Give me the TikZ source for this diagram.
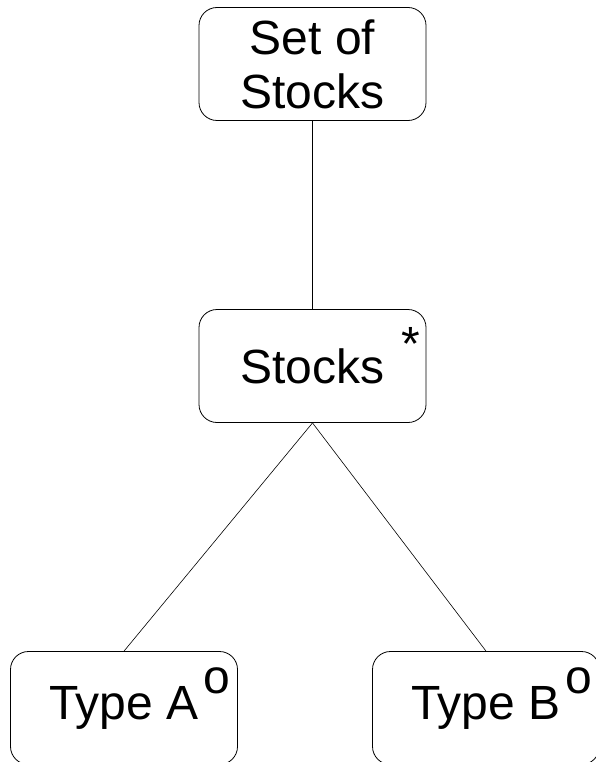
\documentclass[tikz,border=0pt]{standalone}
\usepackage{fontspec}
\setmainfont{Liberation Sans}
\tikzset{
  box/.style={draw, rounded corners=18pt, minimum width=227pt, minimum height=113pt,
    align=center, line width=0.8pt, font=\fontsize{48}{54}\selectfont},
  tag/.style={inner sep=0pt, font=\fontsize{48}{52}\selectfont},
  link/.style={line width=0.6pt}
}
\begin{document}
\begin{tikzpicture}[x=1pt,y=-1pt]
    \useasboundingbox (0,0) rectangle (596,762);
    \node[box] (set) at (312.5,64) {Set of\\Stocks};
    \node[box] (stocks) at (312.5,366) {Stocks};
    \node[box] (typea) at (124,708) {Type A};
    \node[box] (typeb) at (486,708) {Type B};
    \node[tag, anchor=north] (stocksmark) at ([xshift=-16pt,yshift=-18pt]stocks.north east) {*};
    \node[tag] (typeamark) at ([xshift=-21pt,yshift=-30pt]typea.north east) {o};
    \node[tag] (typebmark) at ([xshift=-21pt,yshift=-30pt]typeb.north east) {o};
    \draw[link] (set.south)--(stocks.north);
    \draw[link] (stocks.south)--(typea.north);
    \draw[link] (stocks.south)--(typeb.north);
\end{tikzpicture}
\end{document}
